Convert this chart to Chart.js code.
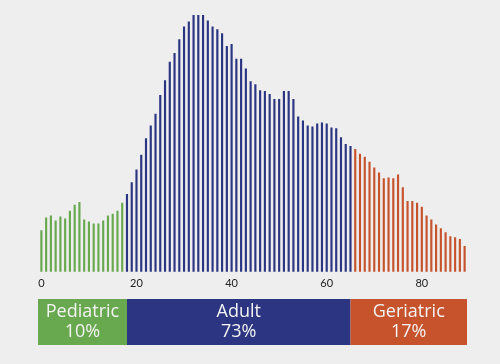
<!DOCTYPE html>
<html>
<head>
<meta charset="utf-8">
<script src="https://cdn.jsdelivr.net/npm/chart.js@4"></script>
<style>
  html, body { margin: 0; padding: 0; background: #eeeeee; }
  #wrap { width: 500px; height: 364px; position: relative; }
</style>
</head>
<body>
<div id="wrap"><canvas id="myChart"></canvas></div>
<script>
// patients by age (arbitrary units)
const pediatrico = [42, 55, 57, 52, 56, 54, 62, 68, 71, 53, 51, 49, 49, 52, 57, 59, 62, 70];
const adulto = [79, 91, 104, 119, 136, 149, 161, 180, 195, 214, 223, 237, 250, 255, 262, 262, 262, 256,
  250, 247, 243, 230, 232, 217, 217, 207, 194, 191, 185, 184, 181, 176, 176, 184, 184, 176,
  158, 154, 149, 148, 151, 152, 151, 147, 146, 137, 130, 128];
const geriatrico = [125, 120, 117, 112, 106, 101, 95, 96, 95, 99, 86, 72, 72, 70, 66, 57, 53, 48,
  44, 40, 36, 35, 33, 26];
const grupos = ['Pediatric', 'Adult', 'Geriatric'];
const porcentajes = ['10%', '73%', '17%'];
const colores = ['#68a84f', '#2c3582', '#c6532c'];
const tickLabels = ['0', '20', '40', '60', '80'];

const edades = [];
for (let i = 0; i < pediatrico.length + adulto.length + geriatrico.length; i++) edades.push(String(i));

const valores = [...pediatrico, ...adulto, ...geriatrico];
const barColores = valores.map((v, i) =>
  i < pediatrico.length ? colores[0] : (i < pediatrico.length + adulto.length ? colores[1] : colores[2]));

// colored boxes under the axis, one per age group
const cajas = {
  id: 'cajas',
  afterDraw(chart) {
    const { ctx, chartArea, scales } = chart;
    const x = scales.x;
    const top = x.bottom + 4;
    const h = 46;
    const bordes = [chartArea.left - 1,
      x.getPixelForValue(pediatrico.length),
      x.getPixelForValue(pediatrico.length + adulto.length - 1),
      chartArea.right];
    ctx.save();
    for (let i = 0; i < 3; i++) {
      ctx.fillStyle = colores[i];
      ctx.fillRect(bordes[i], top, bordes[i + 1] - bordes[i], h);
      const cx = (bordes[i] + bordes[i + 1]) / 2;
      ctx.fillStyle = '#f3f3f3';
      ctx.font = '18px "Open Sans"';
      ctx.textAlign = 'center';
      ctx.textBaseline = 'middle';
      ctx.fillText(grupos[i], cx, top + h / 2 - 10);
      ctx.fillText(porcentajes[i], cx, top + h / 2 + 10);
    }
    ctx.restore();
  }
};

new Chart(document.getElementById('myChart'), {
  type: 'bar',
  data: {
    labels: edades,
    datasets: [{
      data: valores,
      backgroundColor: barColores,
      barThickness: 1.5
    }]
  },
  options: {
    responsive: true,
    maintainAspectRatio: false,
    animation: false,
    layout: { padding: { top: 15, left: 39, right: 33, bottom: 69 } },
    plugins: { legend: { display: false }, tooltip: { enabled: false } },
    scales: {
      x: {
        grid: { display: false, drawTicks: false },
        border: { display: false },
        ticks: {
          autoSkip: false,
          maxRotation: 0,
          padding: 5,
          color: '#222222',
          font: { family: 'Lato', size: 11 },
          callback: (v, i) => (i % 20 === 0 ? tickLabels[i / 20] : '')
        }
      },
      y: { display: false, min: 0, max: 262 }
    }
  },
  plugins: [cajas]
});
</script>
</body>
</html>
